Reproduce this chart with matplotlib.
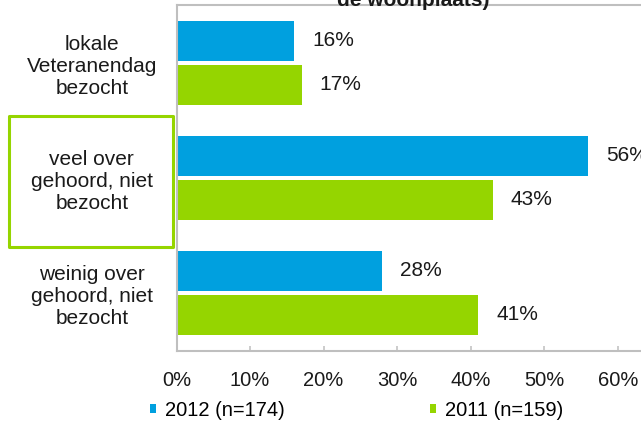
import numpy as np
import matplotlib
matplotlib.use("Agg")
import matplotlib.pyplot as plt
from matplotlib.patches import Rectangle

plt.rcParams['font.family'] = ['Liberation Sans', 'DejaVu Sans']

# data
categories = ["lokale\nVeteranendag\nbezocht",
              "veel over\ngehoord, niet\nbezocht",
              "weinig over\ngehoord, niet\nbezocht"]
vals_2012 = [16, 56, 28]
vals_2011 = [17, 43, 41]
series_names = ["2012 (n=174)", "2011 (n=159)"]
xticks = [0, 10, 20, 30, 40, 50, 60]

blue = "#00a0df"
green = "#95d500"
grey = "#bfbfbf"

W, H = 641, 421
fig = plt.figure(figsize=(W / 100, H / 100), dpi=100)

# axes reaches past the right edge, like the cropped original
left, right, top, bottom = 176.5, 176.5 + 7.354 * 70, 5, 350.5
ax = fig.add_axes([left / W, 1 - bottom / H, (right - left) / W, (bottom - top) / H])

y = np.arange(len(categories))
h = 0.347
off = 0.191
b1 = ax.barh(y - off, vals_2012, height=h, color=blue, label=series_names[0])
b2 = ax.barh(y + off, vals_2011, height=h, color=green, label=series_names[1])

for bars, vals in [(b1, vals_2012), (b2, vals_2011)]:
    for r, v in zip(bars, vals):
        ax.annotate(f"{v}%", (r.get_width(), r.get_y() + r.get_height() / 2),
                    xytext=(13, 0), textcoords="offset points",
                    ha="left", va="center", fontsize=15, color="#1a1a1a")

ax.set_xlim(0, 70)
ax.set_ylim(len(categories) - 0.5, -0.5)

ax.set_xticks(xticks, [f"{t}%" for t in xticks])
ax.tick_params(axis='x', direction='in', length=3.6, width=1.1, color=grey,
               pad=15, labelsize=14.5, labelcolor="#1a1a1a")
ax.set_yticks(y, categories)
ax.tick_params(axis='y', length=0, pad=61, labelsize=15, labelcolor="#1a1a1a")
for lbl in ax.get_yticklabels():
    lbl.set_ha('center')
    lbl.set_multialignment('center')
    lbl.set_linespacing(1.2)

for s in ax.spines.values():
    s.set_color(grey)
    s.set_linewidth(1.5)

# highlight box round the middle label
fig.patches.append(Rectangle((9 / W, 1 - 247 / H), 164 / W, 131 / H,
                             transform=fig.transFigure, fill=False,
                             edgecolor=green, linewidth=2.2, joinstyle='round'))

# title, mostly cut off at the top
fig.text(413 / W, 1 - 6 / H, "de woonplaats)", ha='center', va='baseline',
         fontsize=15, fontweight='bold', color="#1a1a1a")

fig.legend(handles=[b1, b2], loc='center left', bbox_to_anchor=(150 / W, 1 - 410 / H),
           ncol=2, frameon=False, fontsize=14.5, borderpad=0, borderaxespad=0,
           handlelength=0.3, handleheight=0.3, handletextpad=0.45,
           columnspacing=7.2)

fig.savefig("out.png", dpi=100)
